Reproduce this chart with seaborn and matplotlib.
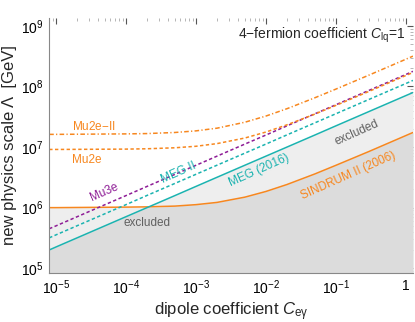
import matplotlib

matplotlib.use("Agg")

import matplotlib.pyplot as plt
from matplotlib.ticker import LogLocator, NullFormatter
import numpy as np
import seaborn as sns

# dipole coefficient C_egamma, shared grid for every curve
c_egamma = [8e-6, 1e-5, 1e-4, 2e-4, 5e-4, 1e-3, 2e-3, 5e-3, 1e-2, 2e-2, 5e-2, 0.1, 0.3, 1.0, 1.26]

# new physics scale Lambda [GeV]
sindrum = [1.00e6, 1.00e6, 1.02e6, 1.03e6, 1.06e6, 1.12e6, 1.22e6, 1.49e6, 1.85e6, 2.41e6, 3.60e6, 5.0e6, 8.5e6, 1.55e7, 1.74e7]
meg2016 = [2.00e5, 2.24e5, 7.08e5, 1.00e6, 1.58e6, 2.24e6, 3.17e6, 5.01e6, 7.08e6, 1.00e7, 1.58e7, 2.24e7, 3.88e7, 7.08e7, 7.94e7]
meg2 = [3.17e5, 3.55e5, 1.12e6, 1.59e6, 2.51e6, 3.55e6, 5.02e6, 7.93e6, 1.12e7, 1.59e7, 2.51e7, 3.55e7, 6.15e7, 1.12e8, 1.26e8]
mu3e = [4.48e5, 5.0e5, 1.58e6, 2.24e6, 3.54e6, 5.0e6, 7.08e6, 1.12e7, 1.58e7, 2.24e7, 3.54e7, 5.0e7, 8.67e7, 1.58e8, 1.78e8]
mu2e = [9.13e6, 9.13e6, 9.25e6, 9.37e6, 9.73e6, 1.03e7, 1.14e7, 1.41e7, 1.77e7, 2.33e7, 3.50e7, 4.87e7, 8.34e7, 1.52e8, 1.70e8]
mu2e2 = [1.62e7, 1.62e7, 1.65e7, 1.67e7, 1.74e7, 1.85e7, 2.05e7, 2.57e7, 3.25e7, 4.30e7, 6.51e7, 9.06e7, 1.55e8, 2.82e8, 3.17e8]

x_ticks = [1e-5, 1e-4, 1e-3, 1e-2, 1e-1, 1]
x_ticklabels = ["$10^{-5}$", "$10^{-4}$", "$10^{-3}$", "$10^{-2}$", "$10^{-1}$", "1"]
y_ticks = [1e5, 1e6, 1e7, 1e8, 1e9]
y_ticklabels = ["$10^{5}$", "$10^{6}$", "$10^{7}$", "$10^{8}$", "$10^{9}$"]

ORANGE = "#f7871f"
TEAL = "#1bb3b0"
PURPLE = "#8e1d96"
GREY_TXT = "#606060"

sns.set_theme(style="white")
plt.rcParams["font.family"] = ["Liberation Sans", "DejaVu Sans"]
plt.rcParams["mathtext.fontset"] = "custom"
plt.rcParams["mathtext.rm"] = "Liberation Sans"
plt.rcParams["mathtext.it"] = "Liberation Sans:italic"
plt.rcParams["mathtext.default"] = "regular"

fig = plt.figure(figsize=(4.15, 3.22), dpi=100)
ax = fig.add_axes([0.118, 0.152, 0.877, 0.792])
ax.set_xscale("log")
ax.set_yscale("log")
ymin, ymax = 10 ** 4.92, 10 ** 9.13

# excluded regions
upper = np.maximum(meg2016, sindrum)
lower = np.minimum(meg2016, sindrum)
ax.fill_between(c_egamma, ymin, upper, color="#eeeeee", lw=0)
ax.fill_between(c_egamma, ymin, lower, color="#dcdcdc", lw=0)

sns.lineplot(x=c_egamma, y=sindrum, color=ORANGE, lw=1.1, ax=ax)
sns.lineplot(x=c_egamma, y=meg2016, color=TEAL, lw=1.1, ax=ax)
sns.lineplot(x=c_egamma, y=meg2, color=TEAL, lw=1.1, linestyle=(0, (2.2, 1.6)), ax=ax)
sns.lineplot(x=c_egamma, y=mu3e, color=PURPLE, lw=1.1, linestyle=(0, (2.2, 1.6)), ax=ax)
sns.lineplot(x=c_egamma, y=mu2e, color=ORANGE, lw=1.1, linestyle=(0, (2.2, 1.6)), ax=ax)
sns.lineplot(x=c_egamma, y=mu2e2, color=ORANGE, lw=1.1, linestyle=(0, (3.0, 1.5, 0.8, 1.5)), ax=ax)

ax.set_xlim(10 ** -5.1, 10 ** 0.1)
ax.set_ylim(ymin, ymax)
ax.set_xticks(x_ticks, x_ticklabels)
ax.set_yticks(y_ticks, y_ticklabels)
ax.xaxis.set_minor_locator(LogLocator(base=10, subs=np.arange(2, 10), numticks=20))
ax.yaxis.set_minor_locator(LogLocator(base=10, subs=np.arange(2, 10), numticks=20))
ax.xaxis.set_minor_formatter(NullFormatter())
ax.yaxis.set_minor_formatter(NullFormatter())
ax.tick_params(which="major", direction="in", length=4, width=0.8, color="#555555",
               top=True, right=True, labelsize=10, pad=4, labelcolor="black")
ax.tick_params(which="minor", direction="in", length=2, width=0.6, color="#aaaaaa",
               top=True, right=True)
for side in ["top", "right"]:
    ax.spines[side].set_visible(False)
for side in ["left", "bottom"]:
    ax.spines[side].set_color("#888888")
    ax.spines[side].set_linewidth(0.8)

ax.set_xlabel(r"dipole coefficient $\mathit{C}_{\mathrm{e}\gamma}$", fontsize=12, labelpad=2)
ax.set_ylabel("new physics scale Λ  [GeV]", fontsize=12, labelpad=3)

ax.text(0.978, 0.933, r"4$-$fermion coefficient $\mathit{C}_{\mathrm{lq}}$=1", transform=ax.transAxes,
        ha="right", va="center", fontsize=10)
ax.text(1.7e-5, 2.2e7, "Mu2e$-$II", color=ORANGE, fontsize=8.5, ha="left", va="center")
ax.text(1.7e-5, 6.2e6, "Mu2e", color=ORANGE, fontsize=8.5, ha="left", va="center")
ax.text(4.9e-5, 1.8e6, "Mu3e", color=PURPLE, fontsize=8.5, ha="center", va="center", rotation=24)
ax.text(5.7e-4, 3.8e6, "MEG II", color=TEAL, fontsize=8.5, ha="center", va="center", rotation=24)
ax.text(8.1e-3, 4.2e6, "MEG (2016)", color=TEAL, fontsize=8.5, ha="center", va="center", rotation=24)
ax.text(0.148, 3.4e6, "SINDRUM II (2006)", color=ORANGE, fontsize=8.5, ha="center", va="center", rotation=24)
ax.text(0.2, 1.74e7, "excluded", color=GREY_TXT, fontsize=8.5, ha="center", va="center", rotation=24)
ax.text(2.0e-4, 5.5e5, "excluded", color=GREY_TXT, fontsize=8.5, ha="center", va="center")

fig.savefig("out.png", dpi=100)
